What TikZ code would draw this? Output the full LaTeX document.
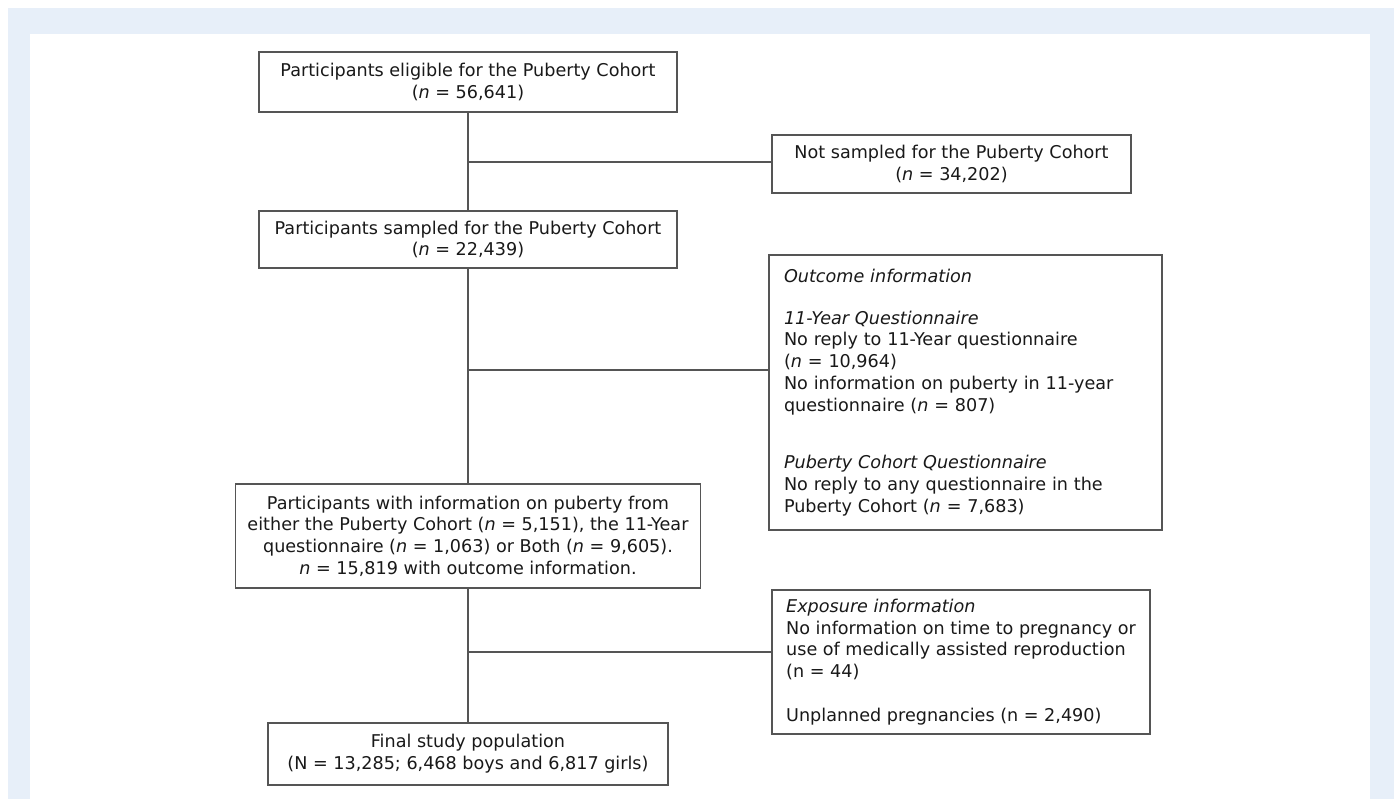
\documentclass[tikz,border=0pt]{standalone}
\usepackage{fontspec}
\setmainfont{DejaVu Sans}
\definecolor{bgblue}{RGB}{231,239,249}
\definecolor{linegray}{RGB}{85,85,85}
\definecolor{txt}{RGB}{25,25,25}
\begin{document}
\begin{tikzpicture}[x=1pt,y=-1pt,
  box/.style={draw=linegray, line width=1.3pt, inner sep=0pt, align=center, text=txt,
    font=\fontsize{17.6}{21.75}\selectfont},
  lbox/.style={box, align=left, inner xsep=15pt},
  conn/.style={draw=linegray, line width=1.3pt}]
\useasboundingbox (0,0) rectangle (1394,799);
\fill[bgblue] (8,8) rectangle (1394,799);
\fill[white] (30,34) rectangle (1370,799);

\node[box, minimum width=418pt, minimum height=60pt] (b1) at (468,82)
  {Participants eligible for the Puberty Cohort\\(\textit{n} = 56,641)};
\node[box, minimum width=359pt, minimum height=58pt] (ns) at (951.5,164)
  {Not sampled for the Puberty Cohort\\(\textit{n} = 34,202)};
\node[box, minimum width=418pt, minimum height=57pt] (b2) at (468,239.5)
  {Participants sampled for the Puberty Cohort\\(\textit{n} = 22,439)};
\node[lbox, text width=363pt, minimum height=275pt] (out) at (965.5,392.5)
  {\textit{Outcome information}\\[20pt]
   \textit{11-Year Questionnaire}\\
   No reply to 11-Year questionnaire\\
   (\textit{n} = 10,964)\\
   No information on puberty in 11-year\\
   questionnaire (\textit{n} = 807)\\[36pt]
   \textit{Puberty Cohort Questionnaire}\\
   No reply to any questionnaire in the\\
   Puberty Cohort (\textit{n} = 7,683)};
\node[box, minimum width=465pt, minimum height=104pt] (b3) at (468,536)
  {Participants with information on puberty from\\
   either the Puberty Cohort (\textit{n} = 5,151), the 11-Year\\
   questionnaire (\textit{n} = 1,063) or Both (\textit{n} = 9,605).\\
   \textit{n} = 15,819 with outcome information.};
\node[box, align=left, minimum width=378pt, minimum height=144pt] (exp) at (961,662)
  {\textit{Exposure information}\\
   No information on time to pregnancy or\\
   use of medically assisted reproduction\\
   (n = 44)\\[21.75pt]
   Unplanned pregnancies (n = 2,490)};
\node[box, minimum width=400pt, minimum height=62pt] (fin) at (468,754)
  {Final study population\\(N = 13,285; 6,468 boys and 6,817 girls)};

\coordinate (j1) at (468,162);
\coordinate (j2) at (468,370);
\coordinate (j3) at (468,652);
\draw[conn] (b1.south) -- (b2.north);
\draw[conn] (b2.south) -- (b3.north);
\draw[conn] (b3.south) -- (fin.north);
\draw[conn] (j1) -- (j1 -| ns.west);
\draw[conn] (j2) -- (j2 -| out.west);
\draw[conn] (j3) -- (j3 -| exp.west);
\end{tikzpicture}
\end{document}
